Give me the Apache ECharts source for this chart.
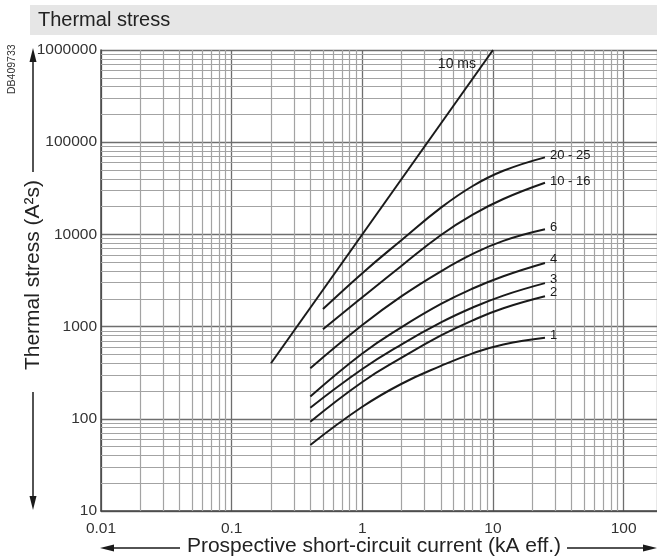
<!DOCTYPE html>
<html><head><meta charset="utf-8">
<script src="https://cdn.jsdelivr.net/npm/echarts@6/dist/echarts.min.js"></script>
<style>html,body{margin:0;padding:0;background:#fff}#c{width:657px;height:556px}</style>
</head><body><div id="c"></div>
<script>
// ---- data (current kA, thermal stress A²s) ----
const title = 'Thermal stress';
const xName = 'Prospective short-circuit current (kA eff.)';
const yName = 'Thermal stress (A\u00B2s)';
const xMin = 0.01, xMax = 180;
const yMin = 10, yMax = 1000000;
const xDecades = [0.01, 0.1, 1, 10];
const yDecades = [10, 100, 1000, 10000, 100000];
const c10ms = [[0.2, 400], [10, 1000000]];
const c2025 = [[0.5, 1550], [1, 3800], [2, 8700], [4, 19500], [7, 33500], [12, 49000], [25, 68500]];
const c1016 = [[0.5, 935], [1, 2080], [2, 4580], [4, 9860], [7, 16400], [12, 24200], [25, 36300]];
const c6 = [[0.4, 353], [1, 1040], [2, 2140], [4, 3980], [7, 6140], [12, 8510], [25, 11350]];
const c4 = [[0.4, 174], [1, 510], [2, 986], [4, 1760], [7, 2590], [12, 3520], [25, 4900]];
const c3 = [[0.4, 132], [1, 347], [2, 643], [4, 1110], [7, 1610], [12, 2170], [25, 2960]];
const c2 = [[0.4, 93], [1, 251], [2, 460], [4, 802], [7, 1170], [12, 1580], [25, 2130]];
const c1 = [[0.4, 52], [1, 135], [2, 240], [4, 375], [7, 513], [12, 641], [25, 755]];
const curveNames = ['10 ms', '20 - 25', '10 - 16', '6', '4', '3', '2', '1'];
const curveData = [c10ms, c2025, c1016, c6, c4, c3, c2, c1];
const labelDy = [14, -2, -1, -2, -4, -4, -4, -2];

const FONT = '"Liberation Sans", Arial, sans-serif';
const chart = echarts.init(document.getElementById('c'), null, {renderer: 'canvas'});

const minorX = [], minorY = [];
xDecades.forEach(d => { for (let m = 2; m <= 9; m++) minorX.push({xAxis: +(d * m).toPrecision(3)}); });
yDecades.forEach(d => { for (let m = 2; m <= 9; m++) minorY.push({yAxis: d * m}); });

const fmt = v => String(+Number(v).toPrecision(3));

const series = [{
  type: 'line', data: [], silent: true,
  markLine: {
    silent: true, symbol: 'none', animation: false,
    label: {show: false},
    lineStyle: {color: '#a3a3a3', width: 1.2, type: 'solid'},
    emphasis: {disabled: true},
    data: minorX.concat(minorY)
  }
}];
curveData.forEach((d, i) => {
  const is10 = i === 0;
  series.push({
    type: 'line', name: curveNames[i], data: d, smooth: is10 ? false : 0.45,
    showSymbol: false, symbol: 'none', silent: true,
    lineStyle: {color: '#1a1a1a', width: 2},
    z: 5,
    endLabel: {
      show: true, formatter: curveNames[i], color: '#1a1a1a',
      fontFamily: FONT, fontSize: is10 ? 14 : 13,
      distance: is10 ? 0 : 5,
      align: is10 ? 'right' : 'left',
      offset: is10 ? [-17, labelDy[i]] : [0, labelDy[i]]
    }
  });
});

const arrowColor = '#1a1a1a';
chart.setOption({
  animation: false,
  grid: {left: 101, top: 50, right: 0, bottom: 45, containLabel: false},
  xAxis: {
    type: 'log', logBase: 10, min: xMin, max: xMax,
    axisLine: {show: true, lineStyle: {color: '#444', width: 1.5}},
    axisTick: {show: false},
    axisLabel: {formatter: fmt, color: '#333', fontFamily: FONT, fontSize: 15.5, margin: 10, showMaxLabel: false},
    splitLine: {show: true, lineStyle: {color: '#6e6e6e', width: 1.3}},
  },
  yAxis: {
    type: 'log', logBase: 10, min: yMin, max: yMax,
    axisLine: {show: true, lineStyle: {color: '#444', width: 1.5}},
    axisTick: {show: false},
    axisLabel: {formatter: fmt, color: '#333', fontFamily: FONT, fontSize: 15.5, margin: 4},
    splitLine: {show: true, lineStyle: {color: '#6e6e6e', width: 1.3}},
  },
  series: series,
  graphic: [
    {type: 'rect', left: 30, top: 5, shape: {width: 627, height: 30}, style: {fill: '#e6e6e6'}, silent: true},
    {type: 'text', x: 38, y: 20, style: {text: title, fill: '#222', font: '20px ' + FONT, verticalAlign: 'middle'}},
    {type: 'text', x: 7, y: 94, rotation: Math.PI / 2, style: {text: 'DB409733', fill: '#333', font: '10.5px ' + FONT}},
    {type: 'text', x: 33, y: 275, rotation: Math.PI / 2, style: {text: yName, fill: '#222', font: '21px ' + FONT, align: 'center', verticalAlign: 'middle'}},
    {type: 'text', x: 374, y: 546, style: {text: xName, fill: '#222', font: '21px ' + FONT, align: 'center', verticalAlign: 'middle'}},
    // y arrows
    {type: 'line', shape: {x1: 33, y1: 172, x2: 33, y2: 60}, style: {stroke: arrowColor, lineWidth: 1.5}},
    {type: 'polygon', shape: {points: [[33, 48], [29.5, 62], [36.5, 62]]}, style: {fill: arrowColor}},
    {type: 'line', shape: {x1: 33, y1: 392, x2: 33, y2: 498}, style: {stroke: arrowColor, lineWidth: 1.5}},
    {type: 'polygon', shape: {points: [[33, 510], [29.5, 496], [36.5, 496]]}, style: {fill: arrowColor}},
    // x arrows
    {type: 'line', shape: {x1: 180, y1: 548, x2: 112, y2: 548}, style: {stroke: arrowColor, lineWidth: 1.5}},
    {type: 'polygon', shape: {points: [[100, 548], [114, 544.5], [114, 551.5]]}, style: {fill: arrowColor}},
    {type: 'line', shape: {x1: 567, y1: 548, x2: 645, y2: 548}, style: {stroke: arrowColor, lineWidth: 1.5}},
    {type: 'polygon', shape: {points: [[657, 548], [643, 544.5], [643, 551.5]]}, style: {fill: arrowColor}}
  ]
});
</script>
</body></html>
